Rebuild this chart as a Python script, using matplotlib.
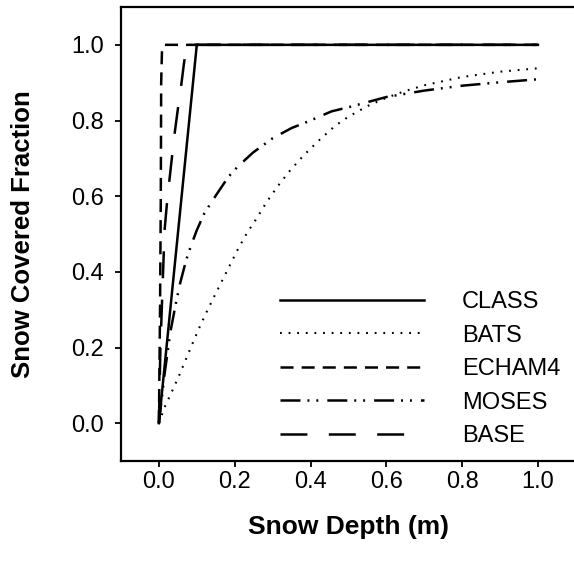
import matplotlib
matplotlib.use("Agg")
import matplotlib.pyplot as plt

plt.rcParams['font.family'] = ['Liberation Sans', 'DejaVu Sans']
plt.rcParams['lines.scale_dashes'] = False

# ---- data ----
class_x = [0.0, 0.1, 1.0]
class_y = [0.0, 1.0, 1.0]

bats_x = [0, 0.015, 0.034, 0.053, 0.070, 0.088, 0.106, 0.125, 0.145, 0.166, 0.187,
          0.208, 0.232, 0.259, 0.284, 0.314, 0.347, 0.383, 0.424, 0.465, 0.5, 0.55,
          0.6, 0.65, 0.7, 0.8, 0.9, 1.0]
bats_y = [0, 0.042, 0.083, 0.125, 0.166, 0.209, 0.251, 0.292, 0.333, 0.375, 0.417,
          0.459, 0.502, 0.543, 0.584, 0.627, 0.669, 0.709, 0.749, 0.786, 0.810, 0.838,
          0.860, 0.878, 0.893, 0.915, 0.929, 0.938]

echam_x = [0.0, 0.003, 0.005, 0.006, 0.008, 0.012, 1.0]
echam_y = [0.0, 0.30, 0.60, 0.90, 0.98, 1.0, 1.0]

moses_x = [0, 0.015, 0.03, 0.047, 0.056, 0.072, 0.085, 0.1, 0.12, 0.145, 0.184, 0.208,
           0.248, 0.3, 0.35, 0.4, 0.455, 0.5, 0.6, 0.7, 0.8, 0.9, 1.0]
moses_y = [0, 0.13, 0.24, 0.328, 0.37, 0.431, 0.47, 0.51, 0.555, 0.594, 0.652, 0.678,
           0.715, 0.753, 0.78, 0.80, 0.824, 0.835, 0.862, 0.879, 0.892, 0.901, 0.909]

base_x = [0, 0.004, 0.0106, 0.015, 0.022, 0.033, 0.041, 0.05, 0.059, 0.066, 0.072, 0.075, 1.0]
base_y = [0, 0.20, 0.387, 0.51, 0.59, 0.69, 0.762, 0.83, 0.894, 0.95, 0.99, 1.0, 1.0]

labels = ["CLASS", "BATS", "ECHAM4", "MOSES", "BASE"]
xticks = [0.0, 0.2, 0.4, 0.6, 0.8, 1.0]
yticks = [0.0, 0.2, 0.4, 0.6, 0.8, 1.0]

# ---- figure ----
W, H = 574, 565
fig = plt.figure(figsize=(W / 100, H / 100), dpi=100)
ax = fig.add_axes([121 / W, (H - 461) / H, 454.8 / W, 454 / H])

lw = 1.8
ax.plot(class_x, class_y, color='black', lw=lw, label=labels[0])
ax.plot(bats_x, bats_y, color='black', lw=1.5, dashes=(1.3, 4.9), label=labels[1])
ax.plot(echam_x, echam_y, color='black', lw=lw, dashes=(9.4, 5.8), label=labels[2])
ax.plot(moses_x, moses_y, color='black', lw=lw,
        dashes=(14.4, 5.0, 1.4, 5.0, 1.4, 6.5), label=labels[3])
ax.plot(base_x, base_y, color='black', lw=lw, dashes=(19.4, 15.4), label=labels[4])

ax.set_xlim(-0.1, 1.1)
ax.set_ylim(-0.1, 1.1)
ax.set_xticks(xticks)
ax.set_yticks(yticks)
ax.set_xticklabels([f"{v:.1f}" for v in xticks])
ax.set_yticklabels([f"{v:.1f}" for v in yticks])
ax.tick_params(direction='out', length=4, width=1.3, labelsize=17, pad=3)
ax.tick_params(axis='y', pad=8)

for s in ['left', 'bottom', 'top']:
    ax.spines[s].set_linewidth(1.6)
ax.spines['right'].set_visible(False)

ax.set_xlabel("Snow Depth (m)", fontsize=19, fontweight='bold', labelpad=16)
ax.set_ylabel("Snow Covered Fraction", fontsize=18.5, fontweight='bold', labelpad=26)

leg = ax.legend(loc='upper left', bbox_to_anchor=(280 / W, 1 - 291 / H),
                bbox_transform=fig.transFigure, frameon=False, fontsize=17,
                handlelength=6.1, handletextpad=1.6, labelspacing=0.49,
                borderpad=0, borderaxespad=0)

fig.savefig("out.png", dpi=100)
